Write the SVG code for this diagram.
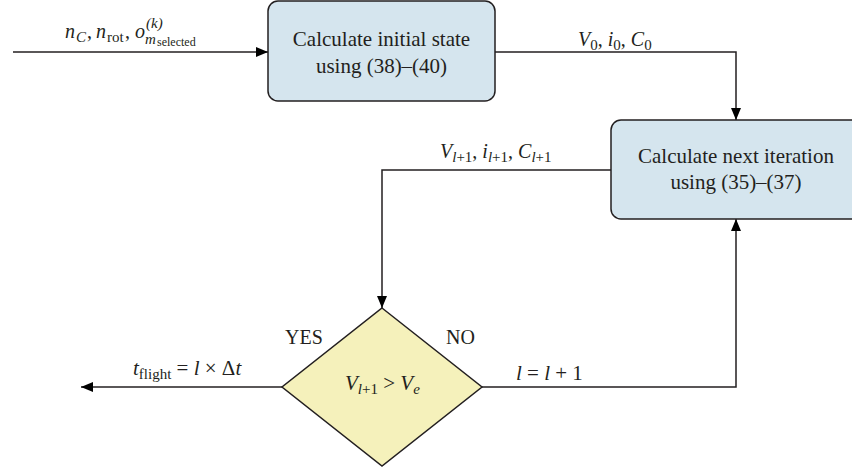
<svg xmlns="http://www.w3.org/2000/svg" width="852" height="468" viewBox="0 0 852 468">
<style>
text{font-family:"Liberation Serif","Times New Roman",serif;font-size:20px;fill:#231f20}
.b{font-size:21px}
.i{font-style:italic}
.s{font-size:15px}
.box{fill:#d5e5ee;stroke:#231f20;stroke-width:1.5}
.dia{fill:#f5f1bb;stroke:#231f20;stroke-width:1.5}
.ln{fill:none;stroke:#231f20;stroke-width:1.5}
</style>
<defs>
<marker id="ah" markerUnits="userSpaceOnUse" markerWidth="13" markerHeight="11" refX="12" refY="5" orient="auto">
<path d="M0,0 L12,5 L0,10 z" fill="#000"/>
</marker>
</defs>
<g id="connectors">
<path class="ln" d="M13,52 H268" marker-end="url(#ah)"/>
<path class="ln" d="M495,52 H736 V120" marker-end="url(#ah)"/>
<path class="ln" d="M611,170 H382 V308" marker-end="url(#ah)"/>
<path class="ln" d="M482,387 H736 V219" marker-end="url(#ah)"/>
<path class="ln" d="M282,387 H81" marker-end="url(#ah)"/>
<text x="65" y="38"><tspan class="i">n</tspan><tspan class="i s" x="76" y="42">C</tspan><tspan x="87" y="38">,</tspan><tspan class="i" x="96" y="38">n</tspan><tspan class="s" x="107" y="42">rot</tspan><tspan x="125" y="38">,</tspan><tspan class="i" x="135" y="38">o</tspan><tspan class="i s" x="146" y="28">(k)</tspan><tspan class="i s" x="145" y="44">m</tspan><tspan style="font-size:12px" x="157" y="46">selected</tspan></text>
<text x="578" y="46"><tspan class="i">V</tspan><tspan class="s" dy="4">0</tspan><tspan dy="-4">, </tspan><tspan class="i">i</tspan><tspan class="s" dy="4">0</tspan><tspan dy="-4">, </tspan><tspan class="i">C</tspan><tspan class="s" dy="4">0</tspan></text>
<text x="440" y="158"><tspan class="i">V</tspan><tspan class="i s" dy="4">l</tspan><tspan class="s">+1</tspan><tspan dy="-4">, </tspan><tspan class="i">i</tspan><tspan class="i s" dy="4">l</tspan><tspan class="s">+1</tspan><tspan dy="-4">, </tspan><tspan class="i">C</tspan><tspan class="i s" dy="4">l</tspan><tspan class="s">+1</tspan></text>
<text x="285" y="344">YES</text>
<text x="446" y="344">NO</text>
<text x="516" y="380" style="font-size:21px"><tspan class="i">l</tspan> = <tspan class="i">l</tspan> + 1</text>
<text x="133" y="375" style="font-size:21px"><tspan class="i">t</tspan><tspan class="s" dy="4">flight</tspan><tspan dy="-4"> = </tspan><tspan class="i">l</tspan> × Δ<tspan class="i">t</tspan></text>
</g>
<g id="initial">
<rect class="box" x="268" y="1" width="227" height="100" rx="10"/>
<text class="b" x="381.5" y="46" text-anchor="middle">Calculate initial state</text>
<text class="b" x="381.5" y="73" text-anchor="middle">using (38)–(40)</text>
</g>
<g id="next">
<rect class="box" x="611" y="120" width="250" height="99" rx="10"/>
<text class="b" x="736" y="163" text-anchor="middle">Calculate next iteration</text>
<text class="b" x="736" y="189" text-anchor="middle">using (35)–(37)</text>
</g>
<g id="decision">
<polygon class="dia" points="382,308 482,387 382,466 282,387"/>
<text x="345" y="390" style="font-size:21px"><tspan class="i">V</tspan><tspan class="i s" dy="4">l</tspan><tspan class="s">+1</tspan><tspan dy="-4"> &gt; </tspan><tspan class="i">V</tspan><tspan class="i s" dy="4">e</tspan></text>
</g>
</svg>
